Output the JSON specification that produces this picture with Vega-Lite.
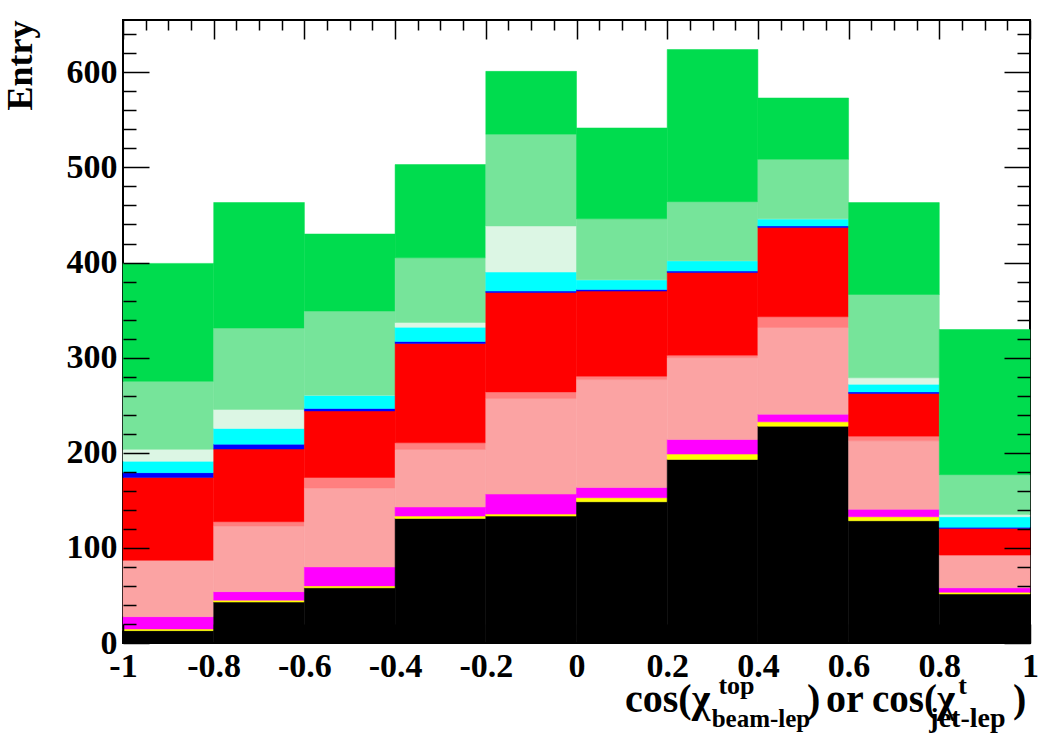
{
  "$schema": "https://vega.github.io/schema/vega-lite/v6.json",
  "width": 907,
  "height": 623,
  "autosize": {"type": "none"},
  "padding": {"left": 123, "top": 20, "right": 29, "bottom": 92},
  "background": "white",
  "config": {"view": {"stroke": "black", "strokeWidth": 2}, "font": "Liberation Serif"},
  "data": {"values": [
    {"lo": -1, "hi": -0.8, "s01": 13, "s02": 1.7, "s03": 13, "s04": 59.4, "s05": 0, "s06": 87, "s07": 5, "s08": 12, "s09": 12.5, "s10": 71.5, "s11": 124},
    {"lo": -0.8, "hi": -0.6, "s01": 43, "s02": 2, "s03": 9, "s04": 69, "s05": 4.5, "s06": 76.5, "s07": 5, "s08": 16.6, "s09": 20, "s10": 85.5, "s11": 132},
    {"lo": -0.6, "hi": -0.4, "s01": 58, "s02": 2, "s03": 20, "s04": 83, "s05": 11, "s06": 70, "s07": 2.6, "s08": 14, "s09": 0, "s10": 88.4, "s11": 81},
    {"lo": -0.4, "hi": -0.2, "s01": 131, "s02": 2.4, "s03": 9.6, "s04": 60.5, "s05": 7, "s06": 104.5, "s07": 2, "s08": 15, "s09": 5, "s10": 68, "s11": 98},
    {"lo": -0.2, "hi": 0, "s01": 133.4, "s02": 2.1, "s03": 21.1, "s04": 100.4, "s05": 7, "s06": 104.5, "s07": 1.5, "s08": 20, "s09": 48.5, "s10": 96.5, "s11": 66},
    {"lo": 0, "hi": 0.2, "s01": 148.5, "s02": 4.2, "s03": 10.9, "s04": 113.4, "s05": 3.5, "s06": 89.5, "s07": 1.6, "s08": 10.4, "s09": 0, "s10": 64, "s11": 95.5},
    {"lo": 0.2, "hi": 0.4, "s01": 193, "s02": 5.6, "s03": 15.4, "s04": 86, "s05": 2.6, "s06": 86.9, "s07": 1.5, "s08": 11, "s09": 0, "s10": 62, "s11": 160},
    {"lo": 0.4, "hi": 0.6, "s01": 228, "s02": 4.5, "s03": 8.1, "s04": 91.1, "s05": 11.3, "s06": 93.8, "s07": 1.7, "s08": 7.5, "s09": 0, "s10": 62.6, "s11": 64.4},
    {"lo": 0.6, "hi": 0.8, "s01": 128.5, "s02": 4.2, "s03": 7.8, "s04": 72.1, "s05": 4.9, "s06": 44.9, "s07": 1.6, "s08": 8, "s09": 6.8, "s10": 87.6, "s11": 96.6},
    {"lo": 0.8, "hi": 1, "s01": 51.5, "s02": 1.8, "s03": 4.7, "s04": 34.5, "s05": 0, "s06": 28, "s07": 1.1, "s08": 11.1, "s09": 2.3, "s10": 42, "s11": 152.6}
  ]},
  "layer": [
    {
      "transform": [
        {"fold": ["s01", "s02", "s03", "s04", "s05", "s06", "s07", "s08", "s09", "s10", "s11"], "as": ["layer", "count"]},
        {"stack": "count", "groupby": ["lo"], "sort": [{"field": "layer", "order": "ascending"}], "as": ["y0", "y1"]}
      ],
      "mark": {"type": "rect", "strokeWidth": 0.5},
      "encoding": {
        "x": {"field": "lo", "type": "quantitative",
          "scale": {"domain": [-1, 1], "nice": false, "zero": false},
          "axis": {"orient": "bottom", "title": null, "grid": false, "domain": false, "ticks": false, "tickSize": 0,
            "values": [-1, -0.8, -0.6, -0.4, -0.2, 0, 0.2, 0.4, 0.6, 0.8, 1],
            "labelExpr": "datum.value + ''",
            "labelFont": "Liberation Serif", "labelFontWeight": "bold", "labelFontSize": 34, "labelColor": "black",
            "labelPadding": 6, "labelFlush": false, "labelOverlap": false}
        },
        "x2": {"field": "hi"},
        "y": {"field": "y0", "type": "quantitative",
          "scale": {"domain": [0, 655], "nice": false},
          "axis": {"orient": "left", "grid": false, "domain": false, "ticks": false, "tickSize": 0,
            "values": [0, 100, 200, 300, 400, 500, 600],
            "labelExpr": "datum.value + ''",
            "labelFont": "Liberation Serif", "labelFontWeight": "bold", "labelFontSize": 34, "labelColor": "black",
            "labelPadding": 6, "labelFlush": false, "labelOverlap": false,
            "title": "Entry", "titleFont": "Liberation Serif", "titleFontWeight": "bold", "titleFontSize": 36, "titleColor": "black",
            "titleAngle": -90, "titleX": -92, "titleY": 0, "titleAlign": "right", "titleBaseline": "alphabetic", "titleAnchor": "end"}
        },
        "y2": {"field": "y1"},
        "color": {"field": "layer", "type": "nominal", "legend": null,
          "scale": {"domain": ["s01", "s02", "s03", "s04", "s05", "s06", "s07", "s08", "s09", "s10", "s11"],
            "range": ["#000000", "#ffff00", "#ff00ff", "#fba3a3", "#ff7f7f", "#ff0000", "#0000ff", "#00ffff", "#dcf6e4", "#76e49a", "#00dc4e"]}},
        "stroke": {"field": "layer", "type": "nominal", "legend": null,
          "scale": {"domain": ["s01", "s02", "s03", "s04", "s05", "s06", "s07", "s08", "s09", "s10", "s11"],
            "range": ["#000000", "#ffff00", "#ff00ff", "#fba3a3", "#ff7f7f", "#ff0000", "#0000ff", "#00ffff", "#dcf6e4", "#76e49a", "#00dc4e"]}}
      }
    },
    {
      "mark": {"type": "point", "opacity": 0},
      "encoding": {
        "x": {"field": "lo", "type": "quantitative", "scale": {"domain": [-1, 1], "nice": false, "zero": false},
          "axis": {"orient": "bottom", "title": null, "grid": false, "domain": false, "labels": false, "zindex": 1,
            "values": [-1, -0.8, -0.6, -0.4, -0.2, 0, 0.2, 0.4, 0.6, 0.8, 1],
            "tickSize": -19, "tickColor": "black", "tickWidth": 1.5}},
        "y": {"field": "s01", "type": "quantitative", "scale": {"domain": [0, 655], "nice": false},
          "axis": {"orient": "left", "title": null, "grid": false, "domain": false, "labels": false, "zindex": 1,
            "values": [0, 100, 200, 300, 400, 500, 600],
            "tickSize": -26, "tickColor": "black", "tickWidth": 1.5}}
      }
    },
    {
      "mark": {"type": "point", "opacity": 0},
      "encoding": {
        "x": {"field": "lo", "type": "quantitative", "scale": {"domain": [-1, 1], "nice": false, "zero": false},
          "axis": {"orient": "bottom", "title": null, "grid": false, "domain": false, "labels": false, "zindex": 1,
            "values": [-0.95,-0.9,-0.85,-0.75,-0.7,-0.65,-0.55,-0.5,-0.45,-0.35,-0.3,-0.25,-0.15,-0.1,-0.05,0.05,0.1,0.15,0.25,0.3,0.35,0.45,0.5,0.55,0.65,0.7,0.75,0.85,0.9,0.95],
            "tickSize": -10, "tickColor": "black", "tickWidth": 1.5}},
        "y": {"field": "s01", "type": "quantitative", "scale": {"domain": [0, 655], "nice": false},
          "axis": {"orient": "left", "title": null, "grid": false, "domain": false, "labels": false, "zindex": 1,
            "values": [20,40,60,80,120,140,160,180,220,240,260,280,320,340,360,380,420,440,460,480,520,540,560,580,620,640],
            "tickSize": -13, "tickColor": "black", "tickWidth": 1.5}}
      }
    },
    {
      "mark": {"type": "point", "opacity": 0},
      "encoding": {
        "x": {"field": "lo", "type": "quantitative", "scale": {"domain": [-1, 1], "nice": false, "zero": false},
          "axis": {"orient": "top", "title": null, "grid": false, "domain": false, "labels": false, "zindex": 1,
            "values": [-1, -0.8, -0.6, -0.4, -0.2, 0, 0.2, 0.4, 0.6, 0.8, 1],
            "tickSize": -19, "tickColor": "black", "tickWidth": 1.5}},
        "y": {"field": "s01", "type": "quantitative", "scale": {"domain": [0, 655], "nice": false},
          "axis": {"orient": "right", "title": null, "grid": false, "domain": false, "labels": false, "zindex": 1,
            "values": [0, 100, 200, 300, 400, 500, 600],
            "tickSize": -26, "tickColor": "black", "tickWidth": 1.5}}
      }
    },
    {
      "mark": {"type": "point", "opacity": 0},
      "encoding": {
        "x": {"field": "lo", "type": "quantitative", "scale": {"domain": [-1, 1], "nice": false, "zero": false},
          "axis": {"orient": "top", "title": null, "grid": false, "domain": false, "labels": false, "zindex": 1,
            "values": [-0.95,-0.9,-0.85,-0.75,-0.7,-0.65,-0.55,-0.5,-0.45,-0.35,-0.3,-0.25,-0.15,-0.1,-0.05,0.05,0.1,0.15,0.25,0.3,0.35,0.45,0.5,0.55,0.65,0.7,0.75,0.85,0.9,0.95],
            "tickSize": -10, "tickColor": "black", "tickWidth": 1.5}},
        "y": {"field": "s01", "type": "quantitative", "scale": {"domain": [0, 655], "nice": false},
          "axis": {"orient": "right", "title": null, "grid": false, "domain": false, "labels": false, "zindex": 1,
            "values": [20,40,60,80,120,140,160,180,220,240,260,280,320,340,360,380,420,440,460,480,520,540,560,580,620,640],
            "tickSize": -13, "tickColor": "black", "tickWidth": 1.5}}
      }
    },
    {
      "data": {"values": [{}]},
      "mark": {"type": "text", "text": "cos(χ", "align": "left", "baseline": "alphabetic", "font": "Liberation Serif", "fontWeight": "bold", "fontSize": 40, "color": "black"},
      "encoding": {"x": {"datum": 0.107, "type": "quantitative", "axis": null}, "y": {"datum": -72.5, "type": "quantitative", "axis": null}}
    },
    {
      "data": {"values": [{}]},
      "mark": {"type": "text", "text": "top", "align": "left", "baseline": "alphabetic", "font": "Liberation Serif", "fontWeight": "bold", "fontSize": 26, "color": "black"},
      "encoding": {"x": {"datum": 0.313, "type": "quantitative", "axis": null}, "y": {"datum": -53.6, "type": "quantitative", "axis": null}}
    },
    {
      "data": {"values": [{}]},
      "mark": {"type": "text", "text": "beam-lep", "align": "left", "baseline": "alphabetic", "font": "Liberation Serif", "fontWeight": "bold", "fontSize": 25, "color": "black"},
      "encoding": {"x": {"datum": 0.298, "type": "quantitative", "axis": null}, "y": {"datum": -88.3, "type": "quantitative", "axis": null}}
    },
    {
      "data": {"values": [{}]},
      "mark": {"type": "text", "text": ")", "align": "left", "baseline": "alphabetic", "font": "Liberation Serif", "fontWeight": "bold", "fontSize": 40, "color": "black"},
      "encoding": {"x": {"datum": 0.5084, "type": "quantitative", "axis": null}, "y": {"datum": -72.5, "type": "quantitative", "axis": null}}
    },
    {
      "data": {"values": [{}]},
      "mark": {"type": "text", "text": "or", "align": "left", "baseline": "alphabetic", "font": "Liberation Serif", "fontWeight": "bold", "fontSize": 40, "color": "black"},
      "encoding": {"x": {"datum": 0.5503, "type": "quantitative", "axis": null}, "y": {"datum": -72.5, "type": "quantitative", "axis": null}}
    },
    {
      "data": {"values": [{}]},
      "mark": {"type": "text", "text": "cos(χ", "align": "left", "baseline": "alphabetic", "font": "Liberation Serif", "fontWeight": "bold", "fontSize": 39, "color": "black"},
      "encoding": {"x": {"datum": 0.6517, "type": "quantitative", "axis": null}, "y": {"datum": -72.5, "type": "quantitative", "axis": null}}
    },
    {
      "data": {"values": [{}]},
      "mark": {"type": "text", "text": "t", "align": "left", "baseline": "alphabetic", "font": "Liberation Serif", "fontWeight": "bold", "fontSize": 26, "color": "black"},
      "encoding": {"x": {"datum": 0.842, "type": "quantitative", "axis": null}, "y": {"datum": -53.6, "type": "quantitative", "axis": null}}
    },
    {
      "data": {"values": [{}]},
      "mark": {"type": "text", "text": "jet-lep", "align": "left", "baseline": "alphabetic", "font": "Liberation Serif", "fontWeight": "bold", "fontSize": 28, "color": "black"},
      "encoding": {"x": {"datum": 0.778, "type": "quantitative", "axis": null}, "y": {"datum": -88.3, "type": "quantitative", "axis": null}}
    },
    {
      "data": {"values": [{}]},
      "mark": {"type": "text", "text": ")", "align": "left", "baseline": "alphabetic", "font": "Liberation Serif", "fontWeight": "bold", "fontSize": 40, "color": "black"},
      "encoding": {"x": {"datum": 0.9625, "type": "quantitative", "axis": null}, "y": {"datum": -72.5, "type": "quantitative", "axis": null}}
    }
  ],
  "resolve": {"axis": {"x": "independent", "y": "independent"}}
}
